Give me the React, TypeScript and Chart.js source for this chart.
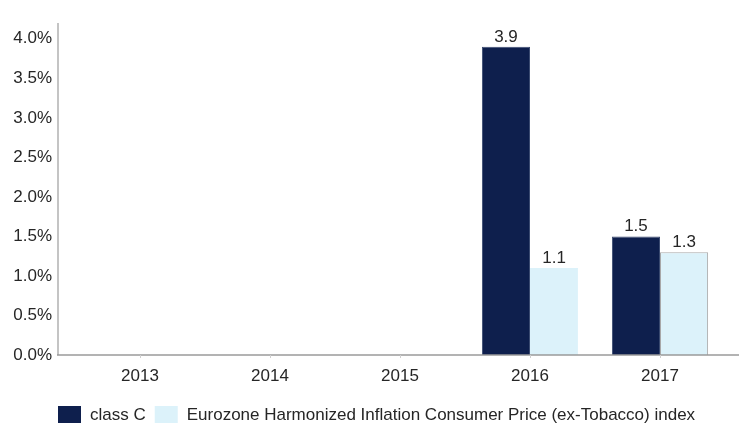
import React, { useEffect, useRef } from "react";
import { Chart, registerables } from "chart.js";

Chart.register(...registerables);

const categories = ["2013", "2014", "2015", "2016", "2017"];
const classCValues: (number | null)[] = [null, null, null, 3.9, 1.5];
const eurozoneValues: (number | null)[] = [null, null, null, 1.1, 1.3];
const seriesNames = ["class C", "Eurozone Harmonized Inflation Consumer Price (ex-Tobacco) index"];
const yTickValues = [0, 0.5, 1.0, 1.5, 2.0, 2.5, 3.0, 3.5, 4.0];
const yMax = 4.2;

const FONT = "'Liberation Sans', Arial, sans-serif";
const DARK = "#0e1f4d";
const LIGHT = "#dcf2fa";
const TEXT = "#262626";

const overlayPlugin = {
  id: "overlay",
  afterDatasetsDraw(chart: any) {
    const ctx = chart.ctx;
    const area = chart.chartArea;
    ctx.save();
    // axis lines
    ctx.strokeStyle = "#c4c4c4";
    ctx.lineWidth = 2;
    ctx.beginPath();
    ctx.moveTo(58, area.top);
    ctx.lineTo(58, area.bottom);
    ctx.stroke();
    ctx.strokeStyle = "#9a9a9a";
    ctx.lineWidth = 1.5;
    ctx.beginPath();
    ctx.moveTo(57, area.bottom);
    ctx.lineTo(chart.width, area.bottom);
    ctx.stroke();
    // small ticks
    const xs = chart.scales.x;
    ctx.strokeStyle = "#d0d0d0";
    ctx.lineWidth = 1;
    categories.forEach((_, i) => {
      const px = Math.round(xs.getPixelForValue(i)) + 0.5;
      ctx.beginPath();
      ctx.moveTo(px, area.bottom);
      ctx.lineTo(px, area.bottom + 3);
      ctx.stroke();
    });
    // data labels
    ctx.fillStyle = TEXT;
    ctx.font = `17px ${FONT}`;
    ctx.textAlign = "center";
    ctx.textBaseline = "alphabetic";
    chart.data.datasets.forEach((ds: any, di: number) => {
      const meta = chart.getDatasetMeta(di);
      meta.data.forEach((bar: any, i: number) => {
        const v = ds.data[i];
        if (v === null || v === undefined) return;
        ctx.fillText(v.toFixed(1), bar.x, bar.y - 5);
      });
    });
    // legend
    const colors = [DARK, LIGHT];
    let x = 58;
    const boxY = 406;
    ctx.textAlign = "left";
    ctx.textBaseline = "middle";
    seriesNames.forEach((name, i) => {
      ctx.fillStyle = colors[i];
      ctx.fillRect(x, boxY, 23, 17);
      x += 23 + 9;
      ctx.fillStyle = TEXT;
      ctx.fillText(name, x, boxY + 9);
      x += ctx.measureText(name).width + 9;
    });
    ctx.restore();
  },
};

export default function App() {
  const ref = useRef<HTMLCanvasElement>(null);
  useEffect(() => {
    document.body.style.margin = "0";
    const chart = new Chart(ref.current!, {
      type: "bar",
      data: {
        labels: categories,
        datasets: [
          {
            label: seriesNames[0],
            data: classCValues,
            backgroundColor: DARK,
            borderColor: "#3a4a70",
            borderWidth: 1,
            categoryPercentage: 0.74,
            barPercentage: 1.0,
          },
          {
            label: seriesNames[1],
            data: eurozoneValues,
            backgroundColor: LIGHT,
            borderColor: [LIGHT, LIGHT, LIGHT, LIGHT, "#a8a8a8"],
            borderWidth: 1,
            categoryPercentage: 0.74,
            barPercentage: 1.0,
          },
        ],
      },
      options: {
        responsive: false,
        animation: false,
        layout: { padding: { top: 23, right: 14, left: 0, bottom: 0 } },
        plugins: { legend: { display: false }, tooltip: { enabled: false } },
        scales: {
          x: {
            grid: { display: false, drawTicks: false },
            border: { display: false },
            ticks: { color: TEXT, font: { family: FONT, size: 17 }, padding: 11 },
            afterFit: (s: any) => {
              s.height = 71;
            },
          },
          y: {
            min: 0,
            max: yMax,
            grid: { display: false, drawTicks: false },
            border: { display: false },
            ticks: {
              color: TEXT,
              font: { family: FONT, size: 17 },
              padding: 23,
              callback: (v: any) => Number(v).toFixed(1) + "%",
            },
            afterBuildTicks: (s: any) => {
              s.ticks = yTickValues.map((v) => ({ value: v }));
            },
            afterFit: (s: any) => {
              s.width = 75;
              s.paddingTop = 0;
              s.paddingBottom = 0;
            },
          },
        },
      },
      plugins: [overlayPlugin],
    });
    return () => chart.destroy();
  }, []);
  return (
    <div style={{ width: 739, height: 426 }}>
      <canvas ref={ref} width={739} height={426} />
    </div>
  );
}
